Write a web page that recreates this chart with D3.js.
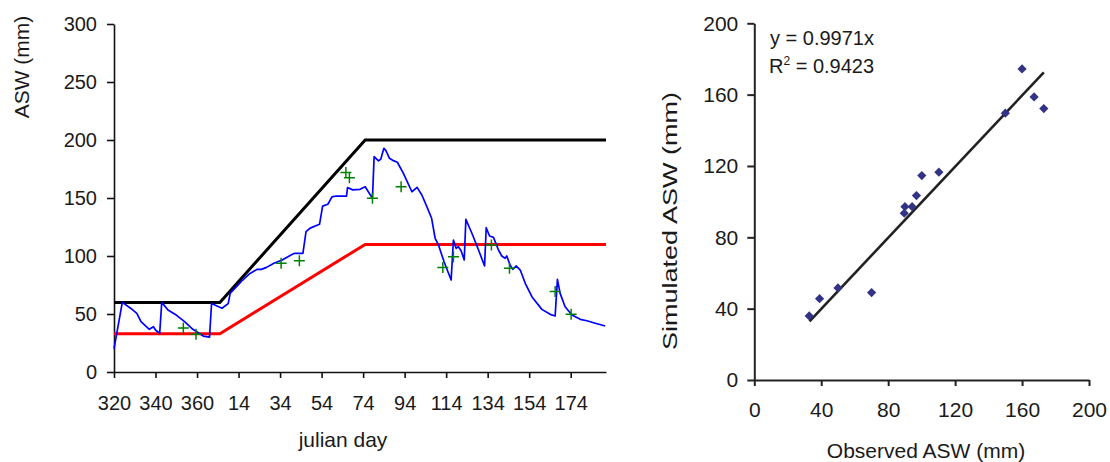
<!DOCTYPE html>
<html><head><meta charset="utf-8">
<script src="https://cdn.jsdelivr.net/npm/d3@7"></script>
<style>
html,body{margin:0;padding:0;background:#fff;}
svg text{font-family:"Liberation Sans",Arial,sans-serif;fill:#1a1a1a;}
</style></head>
<body><svg id="c" width="1110" height="462"></svg>
<script>
// ---- Left chart data (continuous day: 320..366 then 367 = julian day 1) ----
const simDays = [320,324,328,331,333,337,339,340,342,343,346,350,354,358,363,366,367,372,375,376,379,382,385.5,389,391,393.5,397,401,405.5,407,411,412.5,414.5,419,420.5,423,425,427,432,432.5,435,438.5,441,444.5,445.3,447.4,448.5,450,451,452.7,454.6,456.5,459.4,463.5,466,468.3,470.7,473,474.7,476.3,479,482.4,483.5,484.8,485.9,487.2,488.7,489.5,492.4,495.6,498.5,499.3,500.9,502.8,505.2,506.8,508.4,509.2,510.8,512.1,513.7,515.7,518.1,521.3,526.1,530.1,532.5,533.6,534.9,537.3,540.6,544.6,547.8,551,556.6];
const simASW = [20,60,55,50.6,43.4,36.8,39,36.2,33.3,60,53.4,49.1,43.4,36.8,31,30,59,55,59,68,73.6,79.3,85,88.5,88.5,90.2,93.7,96.6,101,102.3,102.3,121,124,127.3,143,144.6,151,151.7,151.7,159,157,157.5,159.7,149.7,185.6,182,183.4,192.8,190.8,184.2,182.2,180.8,171.3,155.4,159.2,152.6,142.5,132.5,115.3,109.5,95,79.3,113.8,106.6,108,104.6,96.6,131.6,119.6,105.2,91.4,124.4,117.2,116.1,105.2,100,98,100,92.2,88.5,91.4,87.9,76.5,64.9,54,49.7,48.3,79.9,67.8,56.3,49.1,45.4,44.2,42.5,39.7];
const obsDays = [353.4,359.5,400.5,409.3,431.7,433.4,444.5,458.3,478.4,483.5,501.8,510.5,532.5,540.2];
const obsASW = [38,32.5,93.7,96,172,167.5,149.7,159.8,90,99.4,109.5,89.4,69.3,49.7];
const maxDays = [320,371,441,557];
const maxASW = [60,60,200,200];
const minDays = [320,371,441,557];
const minASW = [33,33,110,110];
const dayTicks = [320,340,360,380,400,420,440,460,480,500,520,540];
const dayTickLabels = ["320","340","360","14","34","54","74","94","114","134","154","174"];
const aswTicks = [0,50,100,150,200,250,300];

// ---- Right chart data ----
const observed = [160,167.2,173,150,100.1,110.3,96.9,90,94.3,89.6,32.8,39,50,70.1];
const simulated = [174.4,158.7,152.2,149.6,114.6,116.5,103.4,97.2,97.2,93.5,35.9,45.6,51.6,49];
const slope = 0.9971;
const fitRange = [33,173];
const scatterTicks = [0,40,80,120,160,200];

const svg = d3.select("#c");
const FS = 20;

// ===== Left chart =====
const xL = d3.scaleLinear().domain([320,557]).range([114,606]);
const yL = d3.scaleLinear().domain([0,300]).range([372,24]);

const gxL = svg.append("g").attr("transform","translate(0,372)")
  .call(d3.axisBottom(xL).tickValues(dayTicks).tickFormat((d,i)=>dayTickLabels[i]).tickSize(6).tickSizeOuter(0).tickPadding(18));
const gyL = svg.append("g").attr("transform","translate(114,0)")
  .call(d3.axisLeft(yL).tickValues(aswTicks).tickSize(7).tickSizeOuter(0).tickPadding(10));
[gxL,gyL].forEach(g=>{
  g.selectAll("path,line").attr("stroke","#111").attr("stroke-width",1.6);
  g.selectAll("text").style("font-size",FS+"px").attr("fill","#1a1a1a");
});

const lineL = d3.line().x(d=>xL(d[0])).y(d=>yL(d[1]));
svg.append("path").datum(maxDays.map((d,i)=>[d,maxASW[i]])).attr("d",lineL)
  .attr("fill","none").attr("stroke","#000").attr("stroke-width",3);
svg.append("path").datum(minDays.map((d,i)=>[d,minASW[i]])).attr("d",lineL)
  .attr("fill","none").attr("stroke","#ff0000").attr("stroke-width",3);
svg.append("path").datum(simDays.map((d,i)=>[d,simASW[i]])).attr("d",lineL)
  .attr("fill","none").attr("stroke","#0000ff").attr("stroke-width",1.7).attr("stroke-linejoin","round");

const cross = d3.symbol().type(d3.symbolCross);
svg.append("g").selectAll("path").data(obsDays.map((d,i)=>[d,obsASW[i]])).join("path")
  .attr("transform",d=>`translate(${xL(d[0])},${yL(d[1])})`)
  .attr("d","M-5.5,0H5.5M0,-5.5V5.5")
  .attr("stroke","#008000").attr("stroke-width",1.5).attr("fill","none");

svg.append("text").attr("x",343).attr("y",447).attr("text-anchor","middle")
  .style("font-size","21px").text("julian day");
svg.append("text").attr("transform","translate(29,67) rotate(-90)").attr("text-anchor","middle")
  .style("font-size","21px").text("ASW (mm)");

// ===== Right chart =====
const xR = d3.scaleLinear().domain([0,200]).range([754.3,1089]);
const yR = d3.scaleLinear().domain([0,200]).range([380,23.3]);

const gxR = svg.append("g").attr("transform","translate(0,380)")
  .call(d3.axisBottom(xR).tickValues(scatterTicks).tickSize(6).tickSizeOuter(0).tickPadding(16));
const gyR = svg.append("g").attr("transform","translate(754.3,0)")
  .call(d3.axisLeft(yR).tickValues(scatterTicks).tickSize(7).tickSizeOuter(0).tickPadding(9));
[gxR,gyR].forEach(g=>{
  g.selectAll("path,line").attr("stroke","#222").attr("stroke-width",2);
  g.selectAll("text").style("font-size","21px").attr("fill","#1a1a1a");
});

svg.append("line")
  .attr("x1",xR(fitRange[0])).attr("y1",yR(slope*fitRange[0]))
  .attr("x2",xR(fitRange[1])).attr("y2",yR(slope*fitRange[1]))
  .attr("stroke","#222").attr("stroke-width",2.6);

svg.append("g").selectAll("path").data(observed.map((d,i)=>[d,simulated[i]])).join("path")
  .attr("transform",d=>`translate(${xR(d[0])},${yR(d[1])})`)
  .attr("d","M0,-4.6L4.6,0L0,4.6L-4.6,0Z")
  .attr("fill","#333385");

svg.append("text").attr("x",770).attr("y",45).style("font-size","20px").text("y = 0.9971x");
const r2 = svg.append("text").attr("x",769).attr("y",73).style("font-size","20px");
r2.append("tspan").text("R");
r2.append("tspan").attr("dy",-8).style("font-size","12px").text("2");
r2.append("tspan").attr("dy",8).text(" = 0.9423");

svg.append("text").attr("x",926).attr("y",458).attr("text-anchor","middle")
  .style("font-size","21px").text("Observed ASW (mm)");
svg.append("text").attr("transform","translate(677,221) rotate(-90)").attr("text-anchor","middle")
  .attr("textLength",258).attr("lengthAdjust","spacingAndGlyphs")
  .style("font-size","21px").text("Simulated ASW (mm)");
</script></body></html>
